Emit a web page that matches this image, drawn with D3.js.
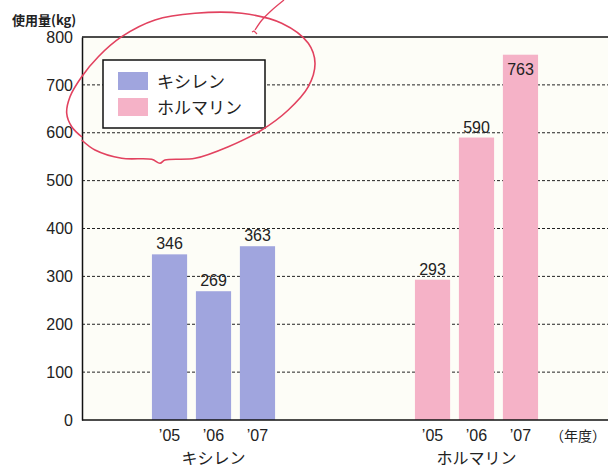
<!DOCTYPE html>
<html><head><meta charset="utf-8">
<script src="https://cdn.jsdelivr.net/npm/d3@7"></script>
<style>
html,body{margin:0;padding:0;background:#fff;}
svg{display:block;}
</style></head>
<body>
<svg id="chart" width="608" height="470"></svg>
<script>
const groups = ["キシレン", "ホルマリン"];
const years = ["’05", "’06", "’07"];
const xyleneValues = [346, 269, 363];
const formalinValues = [293, 590, 763];
const yTicks = [0, 100, 200, 300, 400, 500, 600, 700, 800];
const seriesColors = ["#a0a5de", "#f5b2c7"];

const series = [xyleneValues, formalinValues];
const W = 608, H = 470;
const m = {left: 82, top: 37, right: 0, bottom: 50};
const svg = d3.select("#chart");
const FONT = "'Liberation Sans', Arial, sans-serif";
const JFONT = "'Noto Sans CJK JP', 'Noto Sans', sans-serif";

const y = d3.scaleLinear().domain([0, 800]).range([420, 37]);
const x0 = d3.scaleBand().domain(groups).range([m.left, W]).padding(0);
const x1 = d3.scaleBand().domain(years).range([0, x0.bandwidth()]).paddingInner(0.2).paddingOuter(1.59);

// plot background
svg.append("rect").attr("x", m.left).attr("y", y(800)).attr("width", W - m.left).attr("height", y(0) - y(800)).attr("fill", "#fdfdf7");

// gridlines
svg.append("g").selectAll("line").data(yTicks.filter(d => d > 0 && d < 800)).join("line")
  .attr("x1", m.left).attr("x2", W).attr("y1", d => y(d)).attr("y2", d => y(d))
  .attr("stroke", "#222").attr("stroke-width", 1).attr("stroke-dasharray", "3,2");

// bars
const gs = svg.append("g").selectAll("g").data(groups).join("g")
  .attr("transform", d => `translate(${x0(d)},0)`);
gs.each(function(g, gi) {
  const vals = series[gi];
  const sel = d3.select(this);
  sel.selectAll("rect").data(vals).join("rect")
    .attr("x", (d, i) => x1(years[i])).attr("width", x1.bandwidth())
    .attr("y", d => y(d)).attr("height", d => y(0) - y(d))
    .attr("fill", seriesColors[gi]);
  sel.selectAll("text.val").data(vals).join("text").attr("class", "val")
    .attr("x", (d, i) => x1(years[i]) + x1.bandwidth() / 2)
    .attr("y", d => d > 700 ? y(d) + 20 : y(d) - 5)
    .attr("text-anchor", "middle").attr("font-family", FONT).attr("font-size", 16).attr("fill", "#222")
    .text(d => d);
  sel.selectAll("text.yr").data(years).join("text").attr("class", "yr")
    .attr("x", d => x1(d) + x1.bandwidth() / 2).attr("y", 441)
    .attr("text-anchor", "middle").attr("font-family", FONT).attr("font-size", 16).attr("fill", "#222")
    .text(d => d);
  sel.append("text").attr("x", x0.bandwidth() / 2).attr("y", 464)
    .attr("text-anchor", "middle").attr("font-family", JFONT).attr("font-size", 16).attr("fill", "#222")
    .text(g);
});

// axes lines
const yAxis = d3.axisLeft(y).tickValues(yTicks).tickSize(0).tickPadding(9);
const ya = svg.append("g").attr("transform", `translate(${m.left},0)`).call(yAxis);
ya.select(".domain").attr("stroke", "#111").attr("stroke-width", 1.5);
ya.selectAll("text").attr("font-family", FONT).attr("font-size", 16).attr("fill", "#222");
svg.append("line").attr("x1", m.left).attr("x2", W).attr("y1", y(800)).attr("y2", y(800)).attr("stroke", "#111").attr("stroke-width", 1.5);
svg.append("line").attr("x1", m.left).attr("x2", W).attr("y1", y(0)).attr("y2", y(0)).attr("stroke", "#111").attr("stroke-width", 1.5);

// y label and unit
svg.append("text").attr("x", 12).attr("y", 25).attr("font-family", JFONT).attr("font-size", 13).attr("font-weight", "bold").attr("fill", "#222").text("使用量(kg)");
svg.append("text").attr("x", 606).attr("y", 441).attr("text-anchor", "end").attr("font-family", JFONT).attr("font-size", 14).attr("fill", "#222").text("（年度）");

// legend
const lg = svg.append("g").attr("transform", "translate(103,60)");
lg.append("rect").attr("width", 162).attr("height", 68).attr("fill", "#fff").attr("stroke", "#111").attr("stroke-width", 1.5);
groups.forEach((g, i) => {
  lg.append("rect").attr("x", 15).attr("y", 12 + i * 26).attr("width", 30).attr("height", 18).attr("fill", seriesColors[i]);
  lg.append("text").attr("x", 54).attr("y", 28 + i * 26).attr("font-family", JFONT).attr("font-size", 17).attr("fill", "#222").text(g);
});

// hand-drawn red annotation
const loop = [[81.7,140],[95,150],[121.7,158.3],[151.7,159.3],[160,163.3],[165,160],[195,158.3],[228.3,146.7],[261.7,130],[288.3,110],[308.3,86.7],[315,63.3],[308.3,43.3],[281.7,23.3],[241.7,13.3],[195,13.3],[155,20],[121.7,36.7],[98.3,56.7],[81.7,76.7],[70,96.7],[66.7,113.3],[71.7,126.7],[82,137]];
svg.append("path").attr("d", d3.line().curve(d3.curveCatmullRom)(loop))
  .attr("fill", "none").attr("stroke", "#e2425f").attr("stroke-width", 1.6);
svg.append("path").attr("d", d3.line().curve(d3.curveCatmullRom)([[255,30],[262,20],[272,10],[284,0]]))
  .attr("fill", "none").attr("stroke", "#e2425f").attr("stroke-width", 1.3);
svg.append("path").attr("d", d3.line()([[252,32],[254,31],[257,34]]))
  .attr("fill", "none").attr("stroke", "#e2425f").attr("stroke-width", 1.2);
</script>
</body></html>
